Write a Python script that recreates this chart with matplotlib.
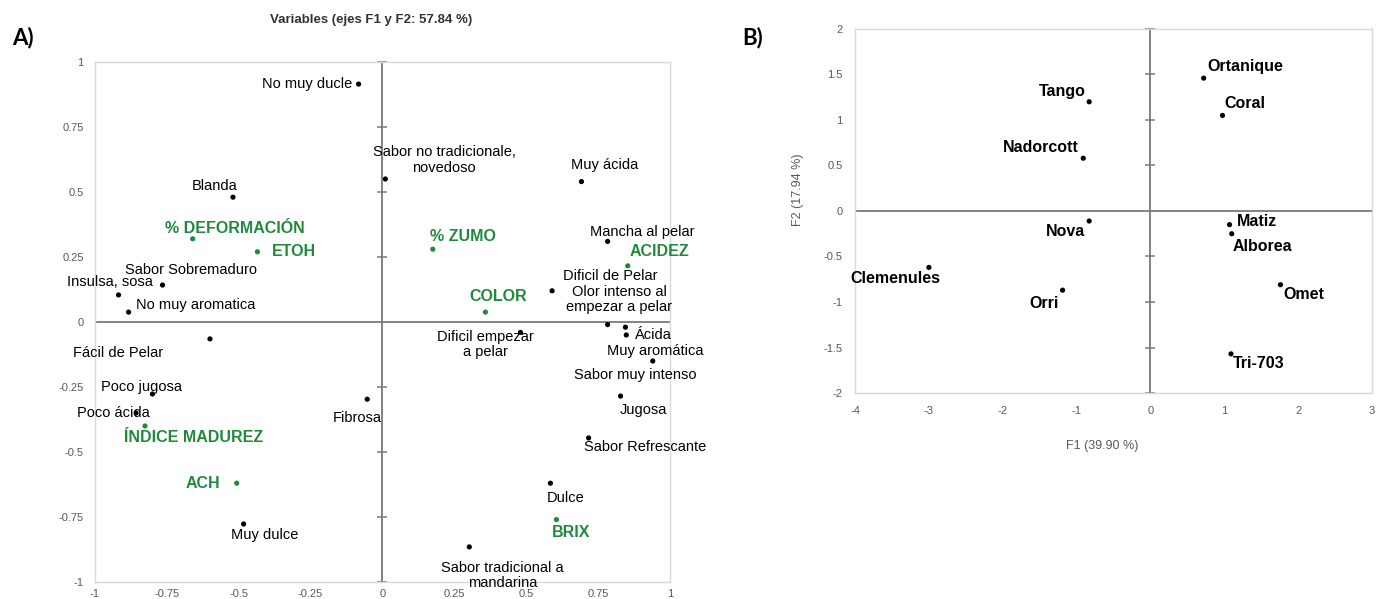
#!/usr/bin/env python3
"""PCA biplot: variables (A) and mandarin varieties (B)."""

import matplotlib
matplotlib.use("Agg")
import matplotlib.pyplot as plt
import numpy as np

plt.rcParams["font.family"] = ["Liberation Sans", "DejaVu Sans"]

# ── Data: panel A (variables) ─────────────────────────────────────
VAR_LABELS = [
    "No muy ducle", "Sabor no tradicionale,\nnovedoso", "Blanda", "% DEFORMACIÓN",
    "ETOH", "% ZUMO", "Sabor Sobremaduro", "Insulsa, sosa", "No muy aromatica",
    "Fácil de Pelar", "Poco jugosa", "Poco ácida", "ÍNDICE MADUREZ", "ACH",
    "Muy dulce", "Fibrosa", "Muy ácida", "Mancha al pelar", "ACIDEZ",
    "Dificil de Pelar", "Olor intenso al\nempezar a pelar", "COLOR",
    "Dificil empezar\na pelar", "Sabor muy intenso", "Ácida", "Muy aromática",
    "Jugosa", "Sabor Refrescante", "Dulce", "BRIX", "Sabor tradicional a\nmandarina",
]
VAR_F1 = [-0.083, 0.01, -0.52, -0.66, -0.435, 0.175, -0.765, -0.918, -0.883,
          -0.60, -0.80, -0.857, -0.826, -0.507, -0.483, -0.053, 0.692, 0.783,
          0.853, 0.783, 0.59, 0.358, 0.48, 0.845, 0.848, 0.94, 0.828, 0.717,
          0.584, 0.605, 0.302]
VAR_F2 = [0.915, 0.55, 0.48, 0.32, 0.27, 0.28, 0.142, 0.104, 0.038,
          -0.065, -0.277, -0.35, -0.40, -0.62, -0.777, -0.297, 0.54, 0.31,
          0.216, -0.01, 0.12, 0.038, -0.04, -0.02, -0.05, -0.15, -0.285, -0.446,
          -0.62, -0.76, -0.865]
VAR_IS_MEASURE = [False, False, False, True, True, True, False, False, False,
                  False, False, False, True, True, False, False, False, False,
                  True, False, False, True, False, False, False, False, False,
                  False, False, True, False]

# ── Data: panel B (varieties) ─────────────────────────────────────
VAR_NAMES = ["Tango", "Nadorcott", "Nova", "Clemenules", "Orri", "Ortanique",
             "Coral", "Matiz", "Alborea", "Omet", "Tri-703"]
OBS_F1 = [-0.83, -0.91, -0.83, -3.0, -1.19, 0.72, 0.975, 1.07, 1.10, 1.76, 1.09]
OBS_F2 = [1.20, 0.58, -0.11, -0.62, -0.87, 1.46, 1.05, -0.15, -0.25, -0.81, -1.57]

A_TICKS = [-1, -0.75, -0.5, -0.25, 0, 0.25, 0.5, 0.75, 1]
A_TICKLABELS = ["-1", "-0.75", "-0.5", "-0.25", "0", "0.25", "0.5", "0.75", "1"]
B_XTICKS = [-4, -3, -2, -1, 0, 1, 2, 3]
B_YTICKS = [-2, -1.5, -1, -0.5, 0, 0.5, 1, 1.5, 2]

# ── Label layout (offset in pixels, horizontal alignment) ─────────
VAR_LAYOUT = [
    (-6, 0, "right"), (59, 19, "center"), (-18, 11, "center"), (42, 10, "center"),
    (14, 0, "left"), (-3, 13, "left"), (28, 15, "center"), (-9, 13, "center"),
    (7, 7, "left"), (-92, -14, "center"), (-11, 7, "center"), (-23, 0, "center"),
    (49, -12, "center"), (-16, 0, "right"), (21, -11, "center"), (-10, -19, "center"),
    (23, 17, "center"), (35, 9, "center"), (32, 14, "center"), (3, 49, "center"),
    (67, -9, "center"), (13, 16, "center"), (-35, -12, "center"), (10, -48, "center"),
    (9, 0, "left"), (3, 10, "center"), (23, -14, "center"), (57, -9, "center"),
    (15, -15, "center"), (15, -13, "center"), (33, -29, "center"),
]
OBS_LAYOUT = [
    (-3, 10, "right"), (-5, 11, "right"), (-4, -10, "right"), (-34, -11, "center"),
    (-4, -13, "right"), (4, 12, "left"), (2, 12, "left"), (7, 3, "left"),
    (1, -13, "left"), (3, -10, "left"), (2, -10, "left"),
]

GREEN = "#1f8a3b"
FRAME = "#d9d9d9"
AXIS = "#7a7a7a"
TICK = "#595959"


def style_frame(ax):
    for spine in ax.spines.values():
        spine.set_color(FRAME)
        spine.set_linewidth(1.0)
    ax.tick_params(length=0, colors=TICK, labelsize=8)


def cross(ax, yticks):
    ax.axhline(0, color=AXIS, lw=1.3, zorder=2)
    ax.axvline(0, color=AXIS, lw=1.3, zorder=2)
    ax.plot(np.zeros(len(yticks)), yticks, ls="none", marker="_", ms=7,
            mew=1.1, color=AXIS, zorder=2, clip_on=False)


fig = plt.figure(figsize=(13.82, 5.99), dpi=100)

# ── Panel A ───────────────────────────────────────────────────────
ax = fig.add_axes([0.0687, 0.0284, 0.4161, 0.8681])
style_frame(ax)
ax.set_xlim(-1, 1)
ax.set_ylim(-1, 1)
ax.set_xticks(A_TICKS)
ax.set_xticklabels(A_TICKLABELS)
ax.set_yticks(A_TICKS)
ax.set_yticklabels(A_TICKLABELS)
ax.tick_params(axis="x", pad=5)
ax.tick_params(axis="y", pad=8)
cross(ax, [t for t in A_TICKS if t != 0])

for lab, x, y, meas, (dx, dy, ha) in zip(VAR_LABELS, VAR_F1, VAR_F2,
                                          VAR_IS_MEASURE, VAR_LAYOUT):
    col = GREEN if meas else "black"
    ax.scatter(x, y, s=14, color=col, edgecolors="none", zorder=4)
    ax.annotate(lab, (x, y), xytext=(dx, dy), textcoords="offset pixels",
                ha=ha, va="center", multialignment="center",
                fontsize=11.5 if meas else 10.5, color=col,
                fontweight="bold" if meas else "normal", zorder=5,
                annotation_clip=False, linespacing=1.1)

fig.text(371 / 1382, 1 - 20 / 599, "Variables (ejes F1 y F2: 57.84 %)",
         ha="center", va="center", fontsize=9.5, fontweight="bold", color="#333333")

# ── Panel B ───────────────────────────────────────────────────────
bx = fig.add_axes([0.6187, 0.3439, 0.3741, 0.6077])
style_frame(bx)
bx.set_xlim(-4, 3)
bx.set_ylim(-2, 2)
bx.set_xticks(B_XTICKS)
bx.set_yticks(B_YTICKS)
bx.set_xticklabels([f"{t:g}" for t in B_XTICKS])
bx.set_yticklabels([f"{t:g}" for t in B_YTICKS])
bx.tick_params(axis="x", pad=9)
bx.tick_params(axis="y", pad=9)
cross(bx, [t for t in B_YTICKS if t != 0])

for lab, x, y, (dx, dy, ha) in zip(VAR_NAMES, OBS_F1, OBS_F2, OBS_LAYOUT):
    bx.scatter(x, y, s=14, color="black", edgecolors="none", zorder=4)
    bx.annotate(lab, (x, y), xytext=(dx, dy), textcoords="offset pixels",
                ha=ha, va="center", fontsize=11.5, fontweight="bold",
                color="black", zorder=5)

fig.text(1102 / 1382, 1 - 446 / 599, "F1 (39.90 %)", ha="center", va="center",
         fontsize=9, color=TICK)
fig.text(798 / 1382, 1 - 190 / 599, "F2 (17.94 %)", ha="center", va="center",
         fontsize=9, color=TICK, rotation=90)

# ── Panel letters ─────────────────────────────────────────────────
fig.text(12 / 1382, 1 - 38 / 599, "A)", ha="left", va="center", fontsize=16,
         fontweight="bold", family=["Lato", "DejaVu Sans"])
fig.text(742 / 1382, 1 - 38 / 599, "B)", ha="left", va="center", fontsize=16,
         fontweight="bold", family=["Lato", "DejaVu Sans"])

fig.savefig("out.png", dpi=100, facecolor="white")
plt.close(fig)
